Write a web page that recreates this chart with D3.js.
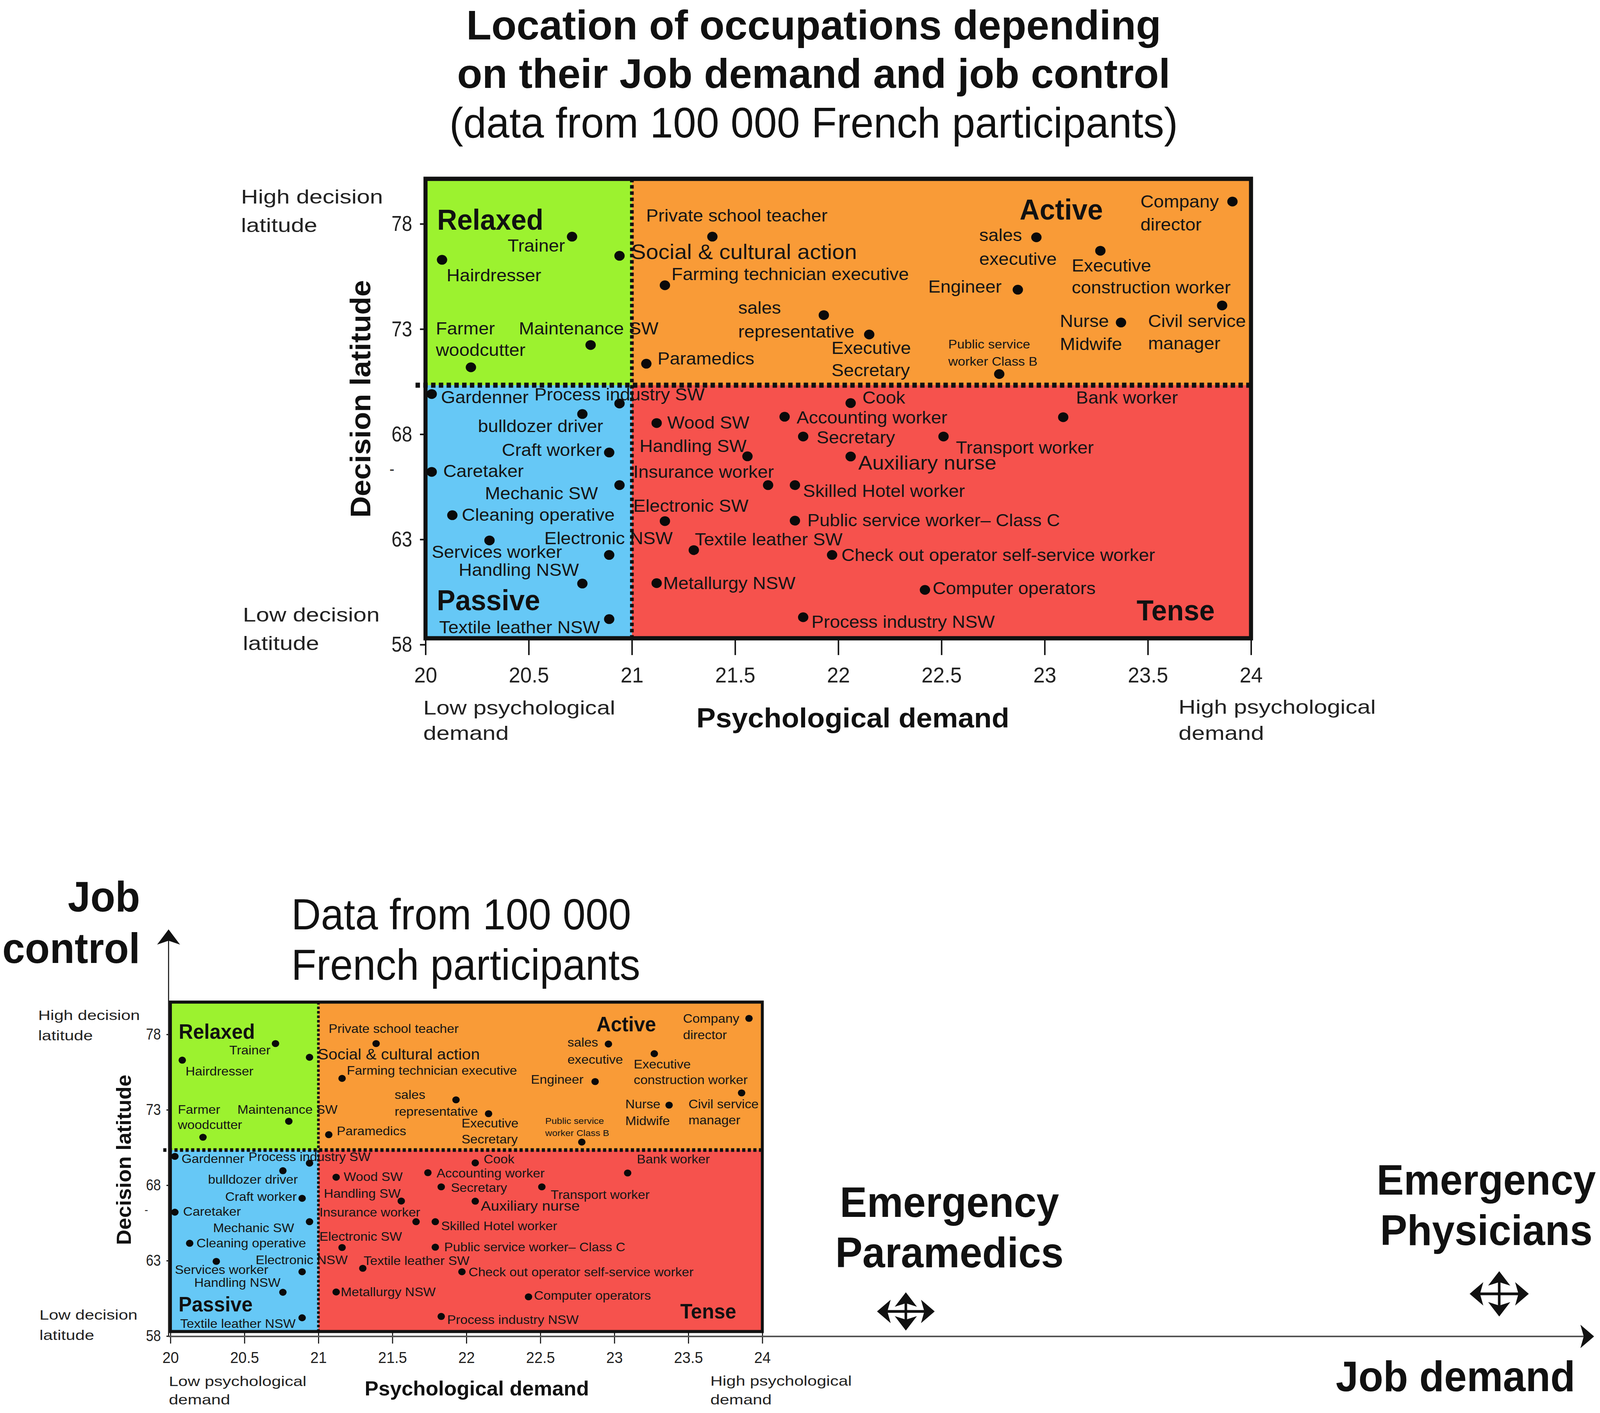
<!DOCTYPE html>
<html>
<head>
<meta charset="utf-8">
<script src="https://cdn.jsdelivr.net/npm/d3@7"></script>
<style>html,body{margin:0;padding:0;background:#fff;overflow:hidden;} svg{display:block;width:100vw;height:100vh;}</style>
</head>
<body>
<svg id="chart"></svg>
<script>
// ---------------- DATA ----------------
const occupations = [
  "Trainer","Social & cultural action","Hairdresser","Maintenance SW","Farmer\nwoodcutter","Paramedics",
  "Private school teacher","Farming technician executive","sales\nrepresentative","Executive\nSecretary",
  "Public service\nworker Class B","sales\nexecutive","Engineer","Executive\nconstruction worker",
  "Company\ndirector","Civil service\nmanager","Nurse\nMidwife",
  "Gardenner","Process industry SW","bulldozer driver","Craft worker","Caretaker","Mechanic SW",
  "Cleaning operative","Services worker","Electronic NSW","Handling NSW","Textile leather NSW",
  "Cook","Bank worker","Wood SW","Accounting worker","Secretary","Transport worker","Handling SW",
  "Auxiliary nurse","Insurance worker","Skilled Hotel worker","Electronic SW",
  "Public service worker\u2013 Class C","Textile leather SW","Check out operator self-service worker",
  "Metallurgy NSW","Computer operators","Process industry NSW"
];
// psychological demand (x)
const demand = [
  20.71,20.94,20.08,20.80,20.22,21.07,
  21.39,21.16,21.93,22.15,22.78,22.96,22.87,23.27,23.91,23.86,23.37,
  20.03,20.94,20.76,20.89,20.03,20.94,20.13,20.31,20.89,20.76,20.89,
  22.06,23.09,21.12,21.74,21.83,22.51,21.56,22.06,21.66,21.79,21.16,21.79,21.30,21.97,21.12,22.42,21.83
];
// decision latitude (y)
const latitude = [
  77.39,76.48,76.29,72.24,71.18,71.35,
  77.39,75.08,73.66,72.74,70.86,77.36,74.87,76.72,79.06,74.12,73.31,
  69.91,69.46,68.96,67.13,66.21,65.58,64.15,62.95,62.26,60.90,59.21,
  69.48,68.81,68.53,68.83,67.89,67.89,66.95,66.94,65.58,65.58,63.87,63.89,62.49,62.26,60.92,60.60,59.30
];
const quadrantNames = ["Relaxed","Active","Passive","Tense"];
const demandSplit = 21;
const latitudeSplit = 70.33;
const xTicks = [20,20.5,21,21.5,22,22.5,23,23.5,24];
const xTickLabels = ["20","20.5","21","21.5","22","22.5","23","23.5","24"];
const yTicks = [58,63,68,73,78];
const yTickLabels = ["58","63","68","73","78"];
const emergencyGroups = ["Emergency\nParamedics","Emergency\nPhysicians"];
const emergencyDemand = [24.97, 28.98];
const emergencyLatitude = [59.63, 60.80];

// ---------------- LAYOUT (label anchors in data units, styles) ----------------
const labelAt = [
  [20.398,76.68],[20.996,76.33],[20.102,75.27],[20.4525,72.74],[20.050,72.74],[21.124,71.31],
  [21.069,78.11],[21.192,75.33],[21.515,73.73],[21.967,71.82],[22.533,72.07],[22.683,77.18],
  [22.436,74.73],[23.131,75.73],[23.464,78.78],[23.501,73.10],[23.074,73.10],
  [20.075,69.48],[20.528,69.61],[20.254,68.10],[20.370,66.97],[20.086,65.97],[20.288,64.90],
  [20.176,63.89],[20.030,62.12],[20.576,62.77],[20.161,61.27],[20.066,58.54],
  [22.117,69.46],[23.152,69.46],[21.171,68.27],[21.798,68.51],[21.895,67.56],[22.570,67.09],
  [21.037,67.16],[22.097,66.32],[21.007,65.93],[21.829,65.02],[21.007,64.31],[21.850,63.63],
  [21.305,62.71],[22.015,61.97],[21.151,60.64],[22.457,60.40],[21.870,58.80]
];
const labelStyle = {
  "Social & cultural action": {size: 53},
  "Auxiliary nurse": {size: 50},
  "Public service\nworker Class B": {size: 31.5, gap: 44},
  "Farmer\nwoodcutter": {gap: 55},
  "sales\nrepresentative": {gap: 61},
  "Executive\nSecretary": {gap: 57},
  "sales\nexecutive": {gap: 61},
  "Executive\nconstruction worker": {gap: 55.5},
  "Company\ndirector": {gap: 59},
  "Civil service\nmanager": {gap: 57.5},
  "Nurse\nMidwife": {gap: 59.5}
};
const quadrantLabelAt = [[20.056,77.72,"start"],[22.879,78.21,"start"],[20.055,59.63,"start"],[23.824,59.16,"end"]];
const quadrantColors = {Relaxed:"#9cf22f", Active:"#f99b37", Passive:"#66c8f6", Tense:"#f6524d"};
const frameTop = 80.14, frameBottom = 58.3;

const W = 4328, H = 3617;
const FONT = "'Liberation Sans', Arial, Helvetica, sans-serif";

const svg = d3.select("#chart").attr("viewBox", `0 0 ${W} ${H}`).attr("preserveAspectRatio", "none");
svg.append("rect").attr("width", W).attr("height", H).attr("fill", "#fff");

function stext(parent, x, y, str, o) {
  const lines = str.split("\n");
  const t = parent.append("text")
    .attr("transform", `translate(${x},${y}) ${o.rotate ? "rotate(" + o.rotate + ")" : ""} scale(${o.sx || 1},1)`)
    .attr("font-family", FONT)
    .attr("font-size", o.size)
    .attr("font-weight", o.bold ? "bold" : "normal")
    .attr("fill", o.fill || "#111")
    .attr("text-anchor", o.anchor || "start");
  lines.forEach((ln, i) => t.append("tspan").attr("x", 0).attr("dy", i === 0 ? 0 : (o.gap || 0)).text(ln));
  return t;
}

function drawChart(ox, oy, k) {
  const g = svg.append("g");
  const x = d3.scaleLinear().domain([20, 24]).range([ox, ox + 2233 * k]);
  const y = d3.scaleLinear().domain([58, 78]).range([oy, oy - 1077 * k]);

  const quads = [
    {name: "Relaxed", x0: 20, x1: demandSplit, y0: latitudeSplit, y1: frameTop},
    {name: "Active", x0: demandSplit, x1: 24, y0: latitudeSplit, y1: frameTop},
    {name: "Passive", x0: 20, x1: demandSplit, y0: frameBottom, y1: latitudeSplit},
    {name: "Tense", x0: demandSplit, x1: 24, y0: frameBottom, y1: latitudeSplit}
  ];
  g.selectAll("rect.q").data(quads).join("rect").attr("class", "q")
    .attr("x", d => x(d.x0)).attr("y", d => y(d.y1))
    .attr("width", d => x(d.x1) - x(d.x0)).attr("height", d => y(d.y0) - y(d.y1))
    .attr("fill", d => quadrantColors[d.name]);

  // frame
  g.append("rect").attr("x", x(20)).attr("y", y(frameTop))
    .attr("width", x(24) - x(20)).attr("height", y(frameBottom) - y(frameTop))
    .attr("fill", "none").attr("stroke", "#111").attr("stroke-width", 11 * k);

  // dashed separators
  g.append("line").attr("x1", x(20) - 27 * k).attr("x2", x(24))
    .attr("y1", y(latitudeSplit)).attr("y2", y(latitudeSplit))
    .attr("stroke", "#111").attr("stroke-width", 13 * k).attr("stroke-dasharray", `${12 * k},${9 * k}`);
  g.append("line").attr("x1", x(demandSplit)).attr("x2", x(demandSplit))
    .attr("y1", y(frameTop)).attr("y2", y(frameBottom))
    .attr("stroke", "#111").attr("stroke-width", 10 * k).attr("stroke-dasharray", `${9 * k},${7 * k}`);

  // axes
  const xa = g.append("g").attr("transform", `translate(0,${y(frameBottom)})`)
    .call(d3.axisBottom(x).tickValues(xTicks).tickFormat((d, i) => xTickLabels[i]).tickSize(43 * k).tickPadding(30 * k));
  xa.select(".domain").remove();
  xa.selectAll(".tick line").attr("stroke", "#111").attr("stroke-width", 4 * k);
  xa.selectAll(".tick text").attr("font-family", FONT).attr("font-size", 56 * k).attr("fill", "#222");

  const ya = g.append("g").attr("transform", `translate(${x(20)},0)`)
    .call(d3.axisLeft(y).tickValues(yTicks).tickFormat((d, i) => yTickLabels[i]).tickSize(15 * k).tickPadding(25 * k));
  ya.select(".domain").remove();
  ya.selectAll(".tick line").attr("stroke", "#111").attr("stroke-width", 4 * k);
  ya.selectAll(".tick text").attr("font-family", FONT).attr("font-size", 56 * k).attr("fill", "#222")
    .attr("transform", "scale(0.9,1)");
  // stray dash under the 68 label
  stext(g, x(20) - 91 * k, oy - 436 * k, "-", {size: 40 * k, anchor: "middle", fill: "#222"});

  // side labels
  const side = {size: 50 * k, sx: 1.28, gap: 73 * k, fill: "#222"};
  stext(g, ox - 499 * k, oy - 1129 * k, "High decision\nlatitude", side);
  stext(g, ox - 494 * k, oy - 59 * k, "Low decision\nlatitude", side);
  stext(g, ox - 6 * k, oy + 179 * k, "Low psychological\ndemand", Object.assign({}, side, {gap: 65 * k}));
  stext(g, ox + 2037 * k, oy + 177 * k, "High psychological\ndemand", Object.assign({}, side, {gap: 67 * k}));
  stext(g, ox + 1156 * k, oy + 212 * k, "Psychological demand", {size: 71 * k, sx: 1.10, bold: true, anchor: "middle"});
  stext(g, ox - 149 * k, oy - 629 * k, "Decision latitude", {size: 76 * k, bold: true, anchor: "middle", rotate: -90});

  // quadrant labels
  quadrantNames.forEach((q, i) => {
    const a = quadrantLabelAt[i];
    stext(g, x(a[0]), y(a[1]), q, {size: 75 * k, bold: true, anchor: a[2]});
  });

  // points
  g.selectAll("ellipse.pt").data(occupations).join("ellipse").attr("class", "pt")
    .attr("cx", (d, i) => x(demand[i])).attr("cy", (d, i) => y(latitude[i]))
    .attr("rx", 14 * k).attr("ry", 12.5 * k).attr("fill", "#0a0a0a");

  // occupation labels
  occupations.forEach((name, i) => {
    const st = labelStyle[name] || {};
    stext(g, x(labelAt[i][0]), y(labelAt[i][1]), name,
      {size: (st.size || 43.5) * k, sx: 1.14, gap: (st.gap || 57) * k, fill: "#151515"});
  });
  return {x, y};
}

const chartTop = drawChart(1151, 1650, 1);
const chartBottom = drawChart(461, 3420, 0.717);

// ---------------- titles ----------------
stext(svg, 2201, 101, "Location of occupations depending", {size: 106, bold: true, anchor: "middle", sx: 1.05});
stext(svg, 2201, 225, "on their Job demand and job control", {size: 106, bold: true, anchor: "middle", sx: 1.05});
stext(svg, 2201, 352, "(data from 100 000 French participants)", {size: 110, anchor: "middle", sx: 1.02});

stext(svg, 379, 2333, "Job\ncontrol", {size: 110, bold: true, anchor: "end", gap: 132});
stext(svg, 788, 2379, "Data from 100 000\nFrench participants", {size: 111, gap: 129});
stext(svg, 4261, 3561, "Job demand", {size: 110, bold: true, anchor: "end"});

// ---------------- big axes arrows ----------------
function arrowHead(g, tx, ty, ux, uy, len, half, notch) {
  const px = -uy, py = ux;
  const bx = tx - len * ux, by = ty - len * uy;
  const nx = tx - (len - notch) * ux, ny = ty - (len - notch) * uy;
  g.append("path")
    .attr("d", `M${tx},${ty}L${bx + half * px},${by + half * py}L${nx},${ny}L${bx - half * px},${by - half * py}Z`)
    .attr("fill", "#111");
}
const axisX0 = chartBottom.x(20) - 5, axisY0 = chartBottom.y(58) + 1;
svg.append("line").attr("x1", axisX0).attr("x2", W - 30).attr("y1", axisY0).attr("y2", axisY0)
  .attr("stroke", "#555").attr("stroke-width", 4);
arrowHead(svg, W - 16, axisY0, 1, 0, 37, 30, 9);
svg.append("line").attr("x1", axisX0).attr("x2", axisX0).attr("y1", axisY0).attr("y2", 2395)
  .attr("stroke", "#222").attr("stroke-width", 3);
arrowHead(svg, axisX0, 2379, 0, -1, 39, 31, 10);

// ---------------- emergency groups ----------------
const emergencyArrow = [[78, 49], [80, 58]];
const emergencyLabelOffset = [[118, -242], [-35, -254]];
emergencyGroups.forEach((name, i) => {
  const cx = chartBottom.x(emergencyDemand[i]), cy = chartBottom.y(emergencyLatitude[i]);
  const [hw, hh] = emergencyArrow[i];
  const g = svg.append("g");
  const hl = 37, half = 30, notch = 9;
  g.append("line").attr("x1", cx - hw + hl - notch).attr("x2", cx + hw - hl + notch)
    .attr("y1", cy).attr("y2", cy).attr("stroke", "#111").attr("stroke-width", 7);
  g.append("line").attr("x1", cx).attr("x2", cx)
    .attr("y1", cy - hh + hl - notch).attr("y2", cy + hh - hl + notch).attr("stroke", "#111").attr("stroke-width", 7);
  arrowHead(g, cx + hw, cy, 1, 0, hl, half, notch);
  arrowHead(g, cx - hw, cy, -1, 0, hl, half, notch);
  arrowHead(g, cx, cy - hh, 0, -1, hl, half, notch);
  arrowHead(g, cx, cy + hh, 0, 1, hl, half, notch);
  const off = emergencyLabelOffset[i];
  stext(svg, cx + off[0], cy + off[1], name, {size: 110, bold: true, anchor: "middle", gap: 129});
});
</script>
</body>
</html>
